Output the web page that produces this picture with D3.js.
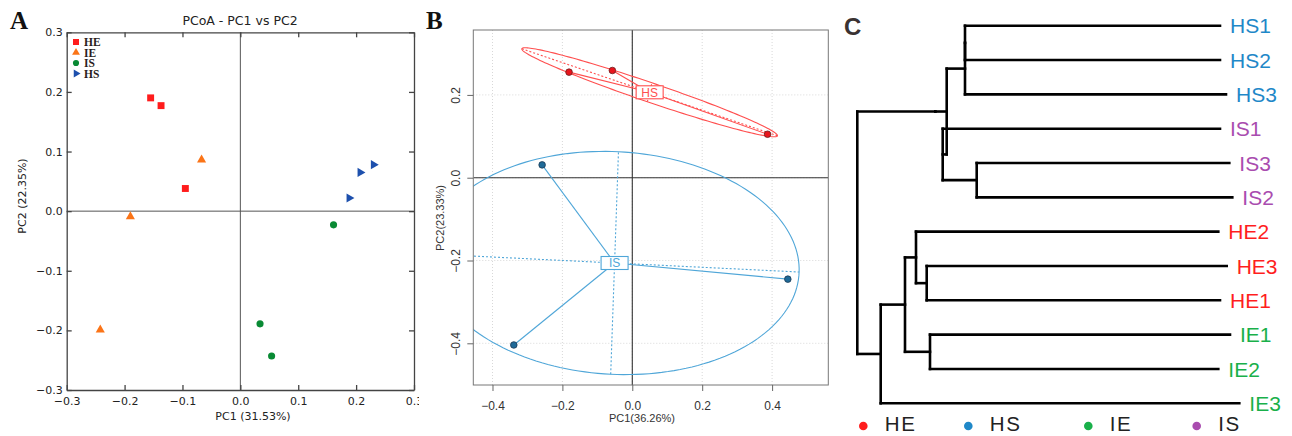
<!DOCTYPE html>
<html><head><meta charset="utf-8">
<script src="https://cdn.jsdelivr.net/npm/d3@7"></script>
<style>body{margin:0;background:#fff}svg{display:block}</style>
</head><body>
<svg id="c" width="1292" height="436"></svg>
<script>
// ---------- Panel A data (PCoA) ----------
const aGroups = ["HE", "IE", "IS", "HS"];
const aHE_pc1 = [-0.155, -0.137, -0.095];
const aHE_pc2 = [0.190, 0.177, 0.038];
const aIE_pc1 = [-0.067, -0.190, -0.242];
const aIE_pc2 = [0.086, -0.009, -0.199];
const aIS_pc1 = [0.161, 0.034, 0.054];
const aIS_pc2 = [-0.023, -0.189, -0.243];
const aHS_pc1 = [0.230, 0.207, 0.188];
const aHS_pc2 = [0.078, 0.065, 0.022];
const aTicks = [-0.3, -0.2, -0.1, 0.0, 0.1, 0.2, 0.3];
const aTitle = "PCoA - PC1 vs PC2";
const aXLabel = "PC1 (31.53%)";
const aYLabel = "PC2 (22.35%)";

// ---------- Panel B data (PCA with class ellipses) ----------
const bHS_pc1 = [-0.181, -0.057, 0.387];
const bHS_pc2 = [0.255, 0.259, 0.105];
const bIS_pc1 = [-0.258, -0.339, 0.445];
const bIS_pc2 = [0.031, -0.404, -0.245];
const bXTicks = [-0.4, -0.2, 0.0, 0.2, 0.4];
const bYTicks = [-0.4, -0.2, 0.0, 0.2];
const bXLabel = "PC1(36.26%)";
const bYLabel = "PC2(23.33%)";

// ---------- Panel C data (dendrogram) ----------
const nodeIds     = ["root","a","b","c","d","HS1","HS2","HS3","e","IS1","f","IS3","IS2",
                     "g","h","i","HE2","j","HE3","HE1","k","IE1","IE2","IE3"];
const nodeParents = ["",   "root","a","b","c","d","d","c","b","e","e","f","f",
                     "root","g","h","i","i","j","j","h","k","k","g"];
const nodeHeights = [0, 0.0780, 0.0894, 0.1077, 0.1077, 0.3627, 0.3627, 0.3687, 0.0854, 0.3627, 0.1194, 0.3720, 0.3750,
                     0.0234, 0.0477, 0.0587, 0.3610, 0.0694, 0.3694, 0.3627, 0.0727, 0.3727, 0.3610, 0.3820];
const cGroups = ["HE", "HS", "IE", "IS"];
const cColors = ["#ff1e1e", "#1f88c8", "#19b04a", "#a94caf"];

const svg = d3.select("#c");

// ================= Panel A =================
(function(){
  svg.append("defs").append("clipPath").attr("id","clipA")
    .append("rect").attr("x",0).attr("y",0).attr("width",419).attr("height",436);
  const g = svg.append("g").attr("clip-path","url(#clipA)");
  const x = d3.scaleLinear().domain([-0.3,0.3]).range([66.7,414]);
  const y = d3.scaleLinear().domain([-0.3,0.3]).range([390,32.3]);
  const font = "'DejaVu Sans', sans-serif";

  g.append("line").attr("x1",x(0)).attr("x2",x(0)).attr("y1",y(0.3)).attr("y2",y(-0.3))
    .attr("stroke","#555").attr("stroke-width",1);
  g.append("line").attr("x1",x(-0.3)).attr("x2",x(0.3)).attr("y1",y(0)).attr("y2",y(0))
    .attr("stroke","#555").attr("stroke-width",1);

  const ax = (axis, tr) => {
    const a = g.append("g").attr("transform",tr).call(axis);
    a.select(".domain").attr("stroke","#444").attr("stroke-width",1.3);
    a.selectAll(".tick line").attr("stroke","#444").attr("stroke-width",1.3);
    a.selectAll("text").attr("font-family",font).attr("font-size",11).attr("fill","#222");
    return a;
  };
  const fmt = d => d3.format(".1f")(d).replace("-","\u2212");
  ax(d3.axisBottom(x).tickValues(aTicks).tickFormat(fmt).tickSizeInner(-5).tickSizeOuter(0).tickPadding(7),
     `translate(0,${y(-0.3)})`);
  ax(d3.axisLeft(y).tickValues(aTicks).tickFormat(fmt).tickSizeInner(-5).tickSizeOuter(0).tickPadding(4),
     `translate(${x(-0.3)},0)`);
  ax(d3.axisTop(x).tickValues(aTicks).tickFormat("").tickSizeInner(-5).tickSizeOuter(0),
     `translate(0,${y(0.3)})`);
  ax(d3.axisRight(y).tickValues(aTicks).tickFormat("").tickSizeInner(-5).tickSizeOuter(0),
     `translate(${x(0.3)},0)`);

  const sq = d3.symbol().type(d3.symbolSquare).size(48);
  const tri = d3.symbol().type(d3.symbolTriangle).size(36);
  const cir = d3.symbol().type(d3.symbolCircle).size(40);
  const rtri = d3.symbol().type(d3.symbolTriangle).size(36);
  const defs = [
    {name:"HE", xs:aHE_pc1, ys:aHE_pc2, sym:sq, rot:0, col:"#ff1c1c"},
    {name:"IE", xs:aIE_pc1, ys:aIE_pc2, sym:tri, rot:0, col:"#fb7417"},
    {name:"IS", xs:aIS_pc1, ys:aIS_pc2, sym:cir, rot:0, col:"#098a34"},
    {name:"HS", xs:aHS_pc1, ys:aHS_pc2, sym:rtri, rot:90, col:"#1d50ad"}
  ];
  defs.forEach(d => {
    g.selectAll(null).data(d.xs.map((v,i)=>[v,d.ys[i]])).enter().append("path")
      .attr("d", d.sym())
      .attr("transform", p => `translate(${x(p[0])},${y(p[1])}) rotate(${d.rot})`)
      .attr("fill", d.col);
  });

  const ly = [42, 52.5, 63, 73.5];
  aGroups.forEach((name,i) => {
    const d = defs.find(e=>e.name===name);
    const small = d3.symbol().type(d.sym.type()).size(d.sym.size()()*0.75);
    g.append("path").attr("d", small())
      .attr("transform", `translate(76,${ly[i]}) rotate(${d.rot})`).attr("fill", d.col);
    g.append("text").attr("x",84).attr("y",ly[i]).attr("dy","0.36em")
      .attr("font-family","'Liberation Serif', serif").attr("font-weight","bold")
      .attr("font-size",11.5).attr("fill","#2a1c1c").text(name);
  });

  g.append("text").attr("x",240).attr("y",25).attr("text-anchor","middle")
    .attr("font-family",font).attr("font-size",12.5).attr("fill","#222").text(aTitle);
  g.append("text").attr("x",253).attr("y",419.5).attr("text-anchor","middle")
    .attr("font-family",font).attr("font-size",11).attr("fill","#222").text(aXLabel);
  g.append("text").attr("transform","translate(26,196) rotate(-90)").attr("text-anchor","middle")
    .attr("font-family",font).attr("font-size",11).attr("fill","#222").text(aYLabel);
  g.append("text").attr("x",10).attr("y",29)
    .attr("font-family","'Liberation Serif', serif").attr("font-weight","bold")
    .attr("font-size",25).attr("fill","#111").text("A");
})();

// ================= Panel B =================
(function(){
  const x = d3.scaleLinear().domain([-0.4549,0.5608]).range([473.3,828.3]);
  const y = d3.scaleLinear().domain([-0.5007,0.3568]).range([385,30]);
  const font = "'Liberation Sans', Arial, sans-serif";
  svg.select("defs").append("clipPath").attr("id","clipB")
    .append("rect").attr("x",473.3).attr("y",30).attr("width",355).attr("height",355);
  const g = svg.append("g");
  const inner = g.append("g").attr("clip-path","url(#clipB)");

  bXTicks.forEach(t => inner.append("line").attr("x1",x(t)).attr("x2",x(t)).attr("y1",30).attr("y2",385)
    .attr("stroke","#d8d8d8").attr("stroke-dasharray","1,2"));
  bYTicks.forEach(t => inner.append("line").attr("y1",y(t)).attr("y2",y(t)).attr("x1",473.3).attr("x2",828.3)
    .attr("stroke","#d8d8d8").attr("stroke-dasharray","1,2"));
  inner.append("line").attr("x1",x(0)).attr("x2",x(0)).attr("y1",30).attr("y2",385).attr("stroke","#333").attr("stroke-width",1.1);
  inner.append("line").attr("y1",y(0)).attr("y2",y(0)).attr("x1",473.3).attr("x2",828.3).attr("stroke","#333").attr("stroke-width",1.1);

  function classGroup(name, xs, ys, lineCol, ptCol, ptStroke){
    const n = xs.length, mx = d3.mean(xs), my = d3.mean(ys);
    let vx=0, vy=0, cxy=0;
    for (let i=0;i<n;i++){ vx+=(xs[i]-mx)**2/n; vy+=(ys[i]-my)**2/n; cxy+=(xs[i]-mx)*(ys[i]-my)/n; }
    const delta = Math.sqrt((vx-vy)**2 + 4*cxy*cxy);
    const l1 = (vx+vy+delta)/2, l2 = Math.max((vx+vy-delta)/2, 0);
    let v1 = [l1-vy, cxy]; const nn = Math.hypot(v1[0],v1[1]); v1 = [v1[0]/nn, v1[1]/nn];
    const v2 = [-v1[1], v1[0]];
    const coeff = 1.5, a1 = coeff*Math.sqrt(l1), a2 = coeff*Math.sqrt(l2);
    const pts = d3.range(0, 361, 2).map(deg => {
      const t = deg*Math.PI/180;
      return [x(mx + a1*v1[0]*Math.cos(t) + a2*v2[0]*Math.sin(t)),
              y(my + a1*v1[1]*Math.cos(t) + a2*v2[1]*Math.sin(t))];
    });
    inner.append("path").attr("d", d3.line()(pts)).attr("fill","none").attr("stroke",lineCol).attr("stroke-width",1.1);
    [[v1,a1],[v2,a2]].forEach(([v,a]) => inner.append("line")
      .attr("x1",x(mx - a*v[0])).attr("y1",y(my - a*v[1]))
      .attr("x2",x(mx + a*v[0])).attr("y2",y(my + a*v[1]))
      .attr("stroke",lineCol).attr("stroke-width",1.1).attr("stroke-dasharray","2,2"));
    xs.forEach((xv,i) => inner.append("line").attr("x1",x(mx)).attr("y1",y(my))
      .attr("x2",x(xv)).attr("y2",y(ys[i])).attr("stroke",lineCol).attr("stroke-width",1.1));
    xs.forEach((xv,i) => inner.append("circle").attr("cx",x(xv)).attr("cy",y(ys[i])).attr("r",3.3)
      .attr("fill",ptCol).attr("stroke",ptStroke).attr("stroke-width",0.8));
    const lab = inner.append("g").attr("transform",`translate(${x(mx)},${y(my)})`);
    const w = name.length*7 + 13;
    lab.append("rect").attr("x",-w/2).attr("y",-6.5).attr("width",w).attr("height",13)
      .attr("fill","#fff").attr("stroke",lineCol).attr("stroke-width",1.1);
    lab.append("text").attr("text-anchor","middle").attr("dy","0.36em").attr("font-family",font)
      .attr("font-size",12).attr("fill",lineCol).text(name);
  }
  classGroup("HS", bHS_pc1, bHS_pc2, "#ff4f4f", "#e8141c", "#6a2020");
  classGroup("IS", bIS_pc1, bIS_pc2, "#4fa6d8", "#1f6a98", "#1d3b55");

  g.append("rect").attr("x",473.3).attr("y",30).attr("width",355).attr("height",355)
    .attr("fill","none").attr("stroke","#777").attr("stroke-width",1);
  const xa = g.append("g").attr("transform","translate(0,385)")
    .call(d3.axisBottom(x).tickValues(bXTicks).tickFormat(d3.format(".1f")).tickSizeOuter(0).tickSize(6).tickPadding(10));
  const ya = g.append("g").attr("transform","translate(473.3,0)")
    .call(d3.axisLeft(y).tickValues(bYTicks).tickFormat(d3.format(".1f")).tickSizeOuter(0).tickSize(6));
  [xa, ya].forEach(a => {
    a.select(".domain").remove();
    a.selectAll(".tick line").attr("stroke","#666");
    a.selectAll("text").attr("font-family",font).attr("font-size",12).attr("fill","#333");
  });
  xa.selectAll("text").text(d => d3.format(".1f")(d));
  ya.selectAll("text").attr("x",null).attr("dy",null).attr("text-anchor","middle")
    .attr("transform","translate(-17,0) rotate(-90)").attr("y",4);

  g.append("text").attr("x",642).attr("y",422).attr("text-anchor","middle")
    .attr("font-family",font).attr("font-size",11).attr("fill","#333").text(bXLabel);
  g.append("text").attr("transform","translate(444,218) rotate(-90)").attr("text-anchor","middle")
    .attr("font-family",font).attr("font-size",11).attr("fill","#333").text(bYLabel);
  g.append("text").attr("x",426).attr("y",29)
    .attr("font-family","'Liberation Serif', serif").attr("font-weight","bold")
    .attr("font-size",25).attr("fill","#111").text("B");
})();

// ================= Panel C =================
(function(){
  const table = nodeIds.map((id,i) => ({id, parent: nodeParents[i] || null, h: nodeHeights[i]}));
  const root = d3.stratify().id(d=>d.id).parentId(d=>d.parent)(table);
  const leaves = root.leaves().map(d=>d.id);
  const yLeaf = d3.scalePoint().domain(leaves).range([25.7, 403.3]);
  const x = d3.scaleLinear().domain([0, 0.382]).range([857.3, 1239.3]);
  root.eachAfter(n => {
    n.px = x(n.data.h);
    n.py = n.children ? d3.mean([n.children[0].py, n.children[n.children.length-1].py]) : yLeaf(n.id);
  });
  const g = svg.append("g");
  const line = (x1,y1,x2,y2) => g.append("line").attr("x1",x1).attr("y1",y1).attr("x2",x2).attr("y2",y2)
    .attr("stroke","#000").attr("stroke-width",2.6).attr("stroke-linecap","square");
  root.each(n => {
    if (n.children) {
      line(n.px, n.children[0].py, n.px, n.children[n.children.length-1].py);
      n.children.forEach(c => line(n.px, c.py, c.px, c.py));
    }
  });
  const colOf = name => cColors[cGroups.indexOf(name.slice(0,2))];
  root.leaves().forEach(n => {
    g.append("text").attr("x", n.px + 10).attr("y", n.py).attr("dy","0.36em")
      .attr("font-family","'Liberation Sans', Arial, sans-serif").attr("font-size",21)
      .attr("fill", colOf(n.id)).text(n.id);
  });
  const dotX = [863.3, 968.3, 1088.3, 1196.7];
  cGroups.forEach((name,i) => {
    g.append("circle").attr("cx",dotX[i]).attr("cy",426).attr("r",4.3).attr("fill",cColors[i]);
    g.append("text").attr("x",dotX[i]+21.5).attr("y",431).attr("font-family","'Liberation Sans', Arial, sans-serif")
      .attr("font-size",20.5).attr("letter-spacing",1.6).attr("fill","#222").text(name);
  });
  g.append("text").attr("x",844).attr("y",35)
    .attr("font-family","'Liberation Sans', Arial, sans-serif").attr("font-weight","bold")
    .attr("font-size",24).attr("fill","#3a3232").text("C");
})();
</script>
</body></html>
